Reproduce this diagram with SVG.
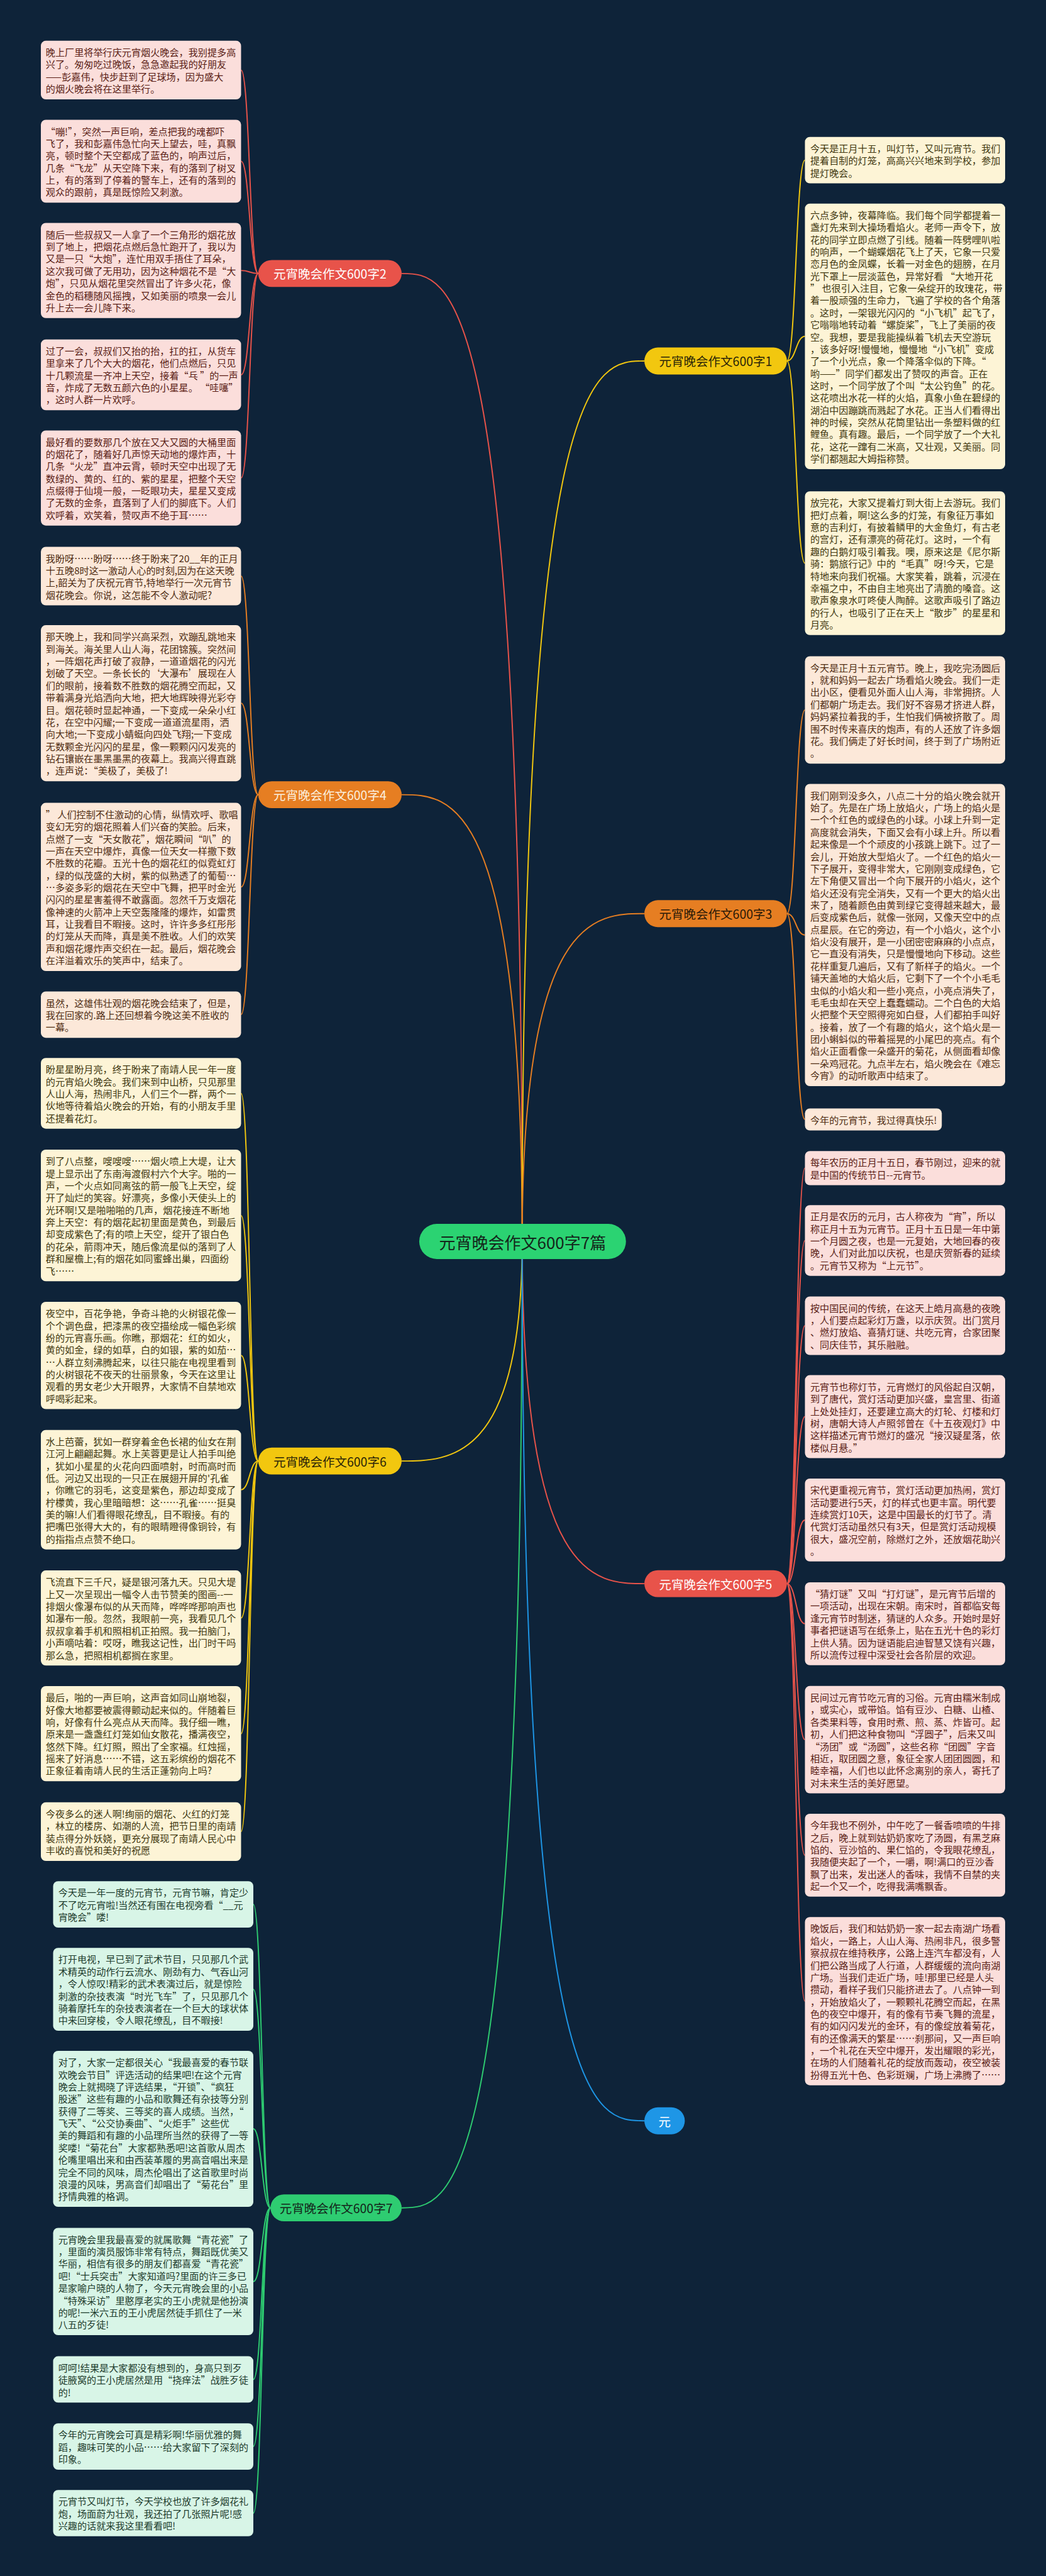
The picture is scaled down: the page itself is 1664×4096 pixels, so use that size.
<svg xmlns="http://www.w3.org/2000/svg" width="1664" height="4096" viewBox="0 0 1664 4096">
<style>
.t{font-family:"Noto Sans CJK SC","Noto Sans CJK JP",sans-serif;font-size:23.3px}
.tp{fill:#5a1d15}.to{fill:#4f2c12}.ty{fill:#40370f}.tg{fill:#1d3b2c}
.bp{fill:#fbdedb}.bo{fill:#fce8d9}.by{fill:#fdf4d6}.bg{fill:#d8f5e7}
.lbl{font-family:"Noto Sans CJK SC","Noto Sans CJK JP",sans-serif;font-size:30px;text-anchor:middle;dominant-baseline:central}
.c{fill:none;stroke-width:3}
.cr{stroke:#e8534a}.co{stroke:#e67e22}.cy{stroke:#f2c70f}.cg{stroke:#2ecc71}.cb{stroke:#1e96e6}
</style>
<rect x="0" y="0" width="1664" height="4096" fill="#0e2339"/>
<g transform="scale(0.65)">
<g id="connectors">
<path class="c cr" d="M1278,3037 C1278,669 1101,669 983,669"/>
<path class="c co" d="M1278,3037 C1278,1944 1101,1944 983,1944"/>
<path class="c cy" d="M1278,3037 C1278,3574 1101,3574 983,3574"/>
<path class="c cg" d="M1278,3037 C1278,5401 1101,5401 983,5401"/>
<path class="c cy" d="M1278,3037 C1278,883 1457,883 1577,883"/>
<path class="c co" d="M1278,3037 C1278,2235 1457,2235 1577,2235"/>
<path class="c cr" d="M1278,3037 C1278,3874 1457,3874 1577,3874"/>
<path class="c cb" d="M1278,3037 C1278,5188 1457,5188 1577,5188"/>
<path class="c cr" d="M632,669 C611,669 611,171.4 590,171.4"/>
<path class="c cr" d="M632,669 C611,669 611,394.4 590,394.4"/>
<path class="c cr" d="M632,669 C611,669 611,661.7 590,661.7"/>
<path class="c cr" d="M632,669 C611,669 611,916.9 590,916.9"/>
<path class="c cr" d="M632,669 C611,669 611,1169.3 590,1169.3"/>
<path class="c co" d="M632,1944 C611,1944 611,1409.1 590,1409.1"/>
<path class="c co" d="M632,1944 C611,1944 611,1720.2 590,1720.2"/>
<path class="c co" d="M632,1944 C611,1944 611,2169.7 590,2169.7"/>
<path class="c co" d="M632,1944 C611,1944 611,2482 590,2482"/>
<path class="c cy" d="M632,3574 C611,3574 611,2674.5 590,2674.5"/>
<path class="c cy" d="M632,3574 C611,3574 611,2973.4 590,2973.4"/>
<path class="c cy" d="M632,3574 C611,3574 611,3315.8 590,3315.8"/>
<path class="c cy" d="M632,3574 C611,3574 611,3644.1 590,3644.1"/>
<path class="c cy" d="M632,3574 C611,3574 611,3958 590,3958"/>
<path class="c cy" d="M632,3574 C611,3574 611,4241 590,4241"/>
<path class="c cy" d="M632,3574 C611,3574 611,4480.6 590,4480.6"/>
<path class="c cg" d="M662,5401 C641,5401 641,4658.7 620,4658.7"/>
<path class="c cg" d="M662,5401 C641,5401 641,4866.4 620,4866.4"/>
<path class="c cg" d="M662,5401 C641,5401 641,5207.8 620,5207.8"/>
<path class="c cg" d="M662,5401 C641,5401 641,5581.2 620,5581.2"/>
<path class="c cg" d="M662,5401 C641,5401 641,5820.7 620,5820.7"/>
<path class="c cg" d="M662,5401 C641,5401 641,5984.7 620,5984.7"/>
<path class="c cg" d="M662,5401 C641,5401 641,6147.7 620,6147.7"/>
<path class="c cy" d="M1926,883 C1948,883 1948,391.7 1970,391.7"/>
<path class="c cy" d="M1926,883 C1948,883 1948,822.8 1970,822.8"/>
<path class="c cy" d="M1926,883 C1948,883 1948,1377.7 1970,1377.7"/>
<path class="c co" d="M1926,2235 C1948,2235 1948,1736.7 1970,1736.7"/>
<path class="c co" d="M1926,2235 C1948,2235 1948,2287.3 1970,2287.3"/>
<path class="c co" d="M1926,2235 C1948,2235 1948,2738.5 1970,2738.5"/>
<path class="c cr" d="M1926,3874 C1948,3874 1948,2857.4 1970,2857.4"/>
<path class="c cr" d="M1926,3874 C1948,3874 1948,3034.5 1970,3034.5"/>
<path class="c cr" d="M1926,3874 C1948,3874 1948,3243 1970,3243"/>
<path class="c cr" d="M1926,3874 C1948,3874 1948,3465.4 1970,3465.4"/>
<path class="c cr" d="M1926,3874 C1948,3874 1948,3718.4 1970,3718.4"/>
<path class="c cr" d="M1926,3874 C1948,3874 1948,3972 1970,3972"/>
<path class="c cr" d="M1926,3874 C1948,3874 1948,4255.6 1970,4255.6"/>
<path class="c cr" d="M1926,3874 C1948,3874 1948,4538.4 1970,4538.4"/>
<path class="c cr" d="M1926,3874 C1948,3874 1948,4895.3 1970,4895.3"/>
</g>

<g id="root"><rect x="1026" y="2994" width="506" height="86" rx="43" fill="#2bd372"/><text x="1279" y="3037" class="lbl" style="font-size:40px" fill="#14261b">元宵晚会作文600字7篇</text></g>
<g id="b2"><rect x="632" y="636" width="351" height="66" rx="33" fill="#e8534a"/><text x="807.5" y="669" class="lbl" fill="#ffffff">元宵晚会作文600字2</text></g>
<g id="b4"><rect x="632" y="1911" width="351" height="66" rx="33" fill="#e67e22"/><text x="807.5" y="1944" class="lbl" fill="#fbeedd">元宵晚会作文600字4</text></g>
<g id="b6"><rect x="632" y="3541" width="351" height="66" rx="33" fill="#f2c70f"/><text x="807.5" y="3574" class="lbl" fill="#2b2508">元宵晚会作文600字6</text></g>
<g id="b7"><rect x="662" y="5368" width="321" height="66" rx="33" fill="#2ecc71"/><text x="822.5" y="5401" class="lbl" fill="#14261b">元宵晚会作文600字7</text></g>
<g id="b1"><rect x="1577" y="850" width="349" height="66" rx="33" fill="#f2c70f"/><text x="1751.5" y="883" class="lbl" fill="#2b2508">元宵晚会作文600字1</text></g>
<g id="b3"><rect x="1577" y="2202" width="349" height="66" rx="33" fill="#e67e22"/><text x="1751.5" y="2235" class="lbl" fill="#2b1a08">元宵晚会作文600字3</text></g>
<g id="b5"><rect x="1577" y="3841" width="349" height="66" rx="33" fill="#e8534a"/><text x="1751.5" y="3874" class="lbl" fill="#ffffff">元宵晚会作文600字5</text></g>
<g id="b8"><rect x="1577" y="5155" width="99" height="66" rx="33" fill="#1e96e6"/><text x="1626.5" y="5188" class="lbl" fill="#ffffff">元</text></g>

<g id="l1"><rect class="bp" x="100" y="99.8" width="490" height="143.2" rx="12"/><text class="t tp" x="112" y="137"><tspan x="112">晚上厂里将举行庆元宵烟火晚会，我别提多高</tspan><tspan x="112" dy="29.8">兴了。匆匆吃过晚饭，急急邀起我的好朋友</tspan><tspan x="112" dy="29.8">——彭嘉伟，快步赶到了足球场，因为盛大</tspan><tspan x="112" dy="29.8">的烟火晚会将在这里举行。</tspan></text></g>
<g id="l2"><rect class="bp" x="100" y="293" width="490" height="202.8" rx="12"/><text class="t tp" x="112" y="330.2"><tspan x="112">“嘣!”，突然一声巨响，差点把我的魂都吓</tspan><tspan x="112" dy="29.8">飞了，我和彭嘉伟急忙向天上望去，哇，真飘</tspan><tspan x="112" dy="29.8">亮，顿时整个天空都成了蓝色的，响声过后，</tspan><tspan x="112" dy="29.8">几条“飞龙”从天空降下来，有的落到了树叉</tspan><tspan x="112" dy="29.8">上，有的落到了停着的警车上，还有的落到的</tspan><tspan x="112" dy="29.8">观众的跟前，真是既惊险又刺激。</tspan></text></g>
<g id="l3"><rect class="bp" x="100" y="545.4" width="490" height="232.6" rx="12"/><text class="t tp" x="112" y="582.6"><tspan x="112">随后一些叔叔又一人拿了一个三角形的烟花放</tspan><tspan x="112" dy="29.8">到了地上，把烟花点燃后急忙跑开了，我以为</tspan><tspan x="112" dy="29.8">又是一只“大炮”，连忙用双手捂住了耳朵，</tspan><tspan x="112" dy="29.8">这次我可做了无用功，因为这种烟花不是“大</tspan><tspan x="112" dy="29.8">炮”，只见从烟花里突然冒出了许多火花，像</tspan><tspan x="112" dy="29.8">金色的稻穗随风摇拽，又如美丽的喷泉一会儿</tspan><tspan x="112" dy="29.8">升上去一会儿降下来。</tspan></text></g>
<g id="l4"><rect class="bp" x="100" y="830.4" width="490" height="173" rx="12"/><text class="t tp" x="112" y="867.6"><tspan x="112">过了一会，叔叔们又抬的抬，扛的扛，从货车</tspan><tspan x="112" dy="29.8">里拿来了几个大大的烟花，他们点燃后，只见</tspan><tspan x="112" dy="29.8">十几颗流星一齐冲上天空，接着“乓 ”的一声</tspan><tspan x="112" dy="29.8">音，炸成了无数五颜六色的小星星。 “哇噻”</tspan><tspan x="112" dy="29.8">，这时人群一片欢呼。</tspan></text></g>
<g id="l5"><rect class="bp" x="100" y="1053" width="490" height="232.6" rx="12"/><text class="t tp" x="112" y="1090.2"><tspan x="112">最好看的要数那几个放在又大又圆的大桶里面</tspan><tspan x="112" dy="29.8">的烟花了，随着好几声惊天动地的爆炸声，十</tspan><tspan x="112" dy="29.8">几条“火龙”直冲云霄，顿时天空中出现了无</tspan><tspan x="112" dy="29.8">数绿的、黄的、红的、紫的星星，把整个天空</tspan><tspan x="112" dy="29.8">点缀得于仙境一般，一眨眼功夫，星星又变成</tspan><tspan x="112" dy="29.8">了无数的金条，直落到了人们的脚底下。人们</tspan><tspan x="112" dy="29.8">欢呼着，欢笑着，赞叹声不绝于耳……</tspan></text></g>

<g id="l6"><rect class="bo" x="100" y="1337.5" width="490" height="143.2" rx="12"/><text class="t to" x="112" y="1374.7"><tspan x="112">我盼呀……盼呀……终于盼来了20__年的正月</tspan><tspan x="112" dy="29.8">十五晚8时这一激动人心的时刻,因为在这天晚</tspan><tspan x="112" dy="29.8">上,韶关为了庆祝元宵节,特地举行一次元宵节</tspan><tspan x="112" dy="29.8">烟花晚会。你说，这怎能不令人激动呢?</tspan></text></g>
<g id="l7"><rect class="bo" x="100" y="1529.4" width="490" height="381.6" rx="12"/><text class="t to" x="112" y="1566.6"><tspan x="112">那天晚上，我和同学兴高采烈，欢蹦乱跳地来</tspan><tspan x="112" dy="29.8">到海关。海关里人山人海，花团锦簇。突然间</tspan><tspan x="112" dy="29.8">，一阵烟花声打破了寂静，一道道烟花的闪光</tspan><tspan x="112" dy="29.8">划破了天空。一条长长的‘大瀑布’展现在人</tspan><tspan x="112" dy="29.8">们的眼前，接着数不胜数的烟花腾空而起，又</tspan><tspan x="112" dy="29.8">带着满身光焰洒向大地，把大地辉映得光彩夺</tspan><tspan x="112" dy="29.8">目。烟花顿时显起神通，一下变成一朵朵小红</tspan><tspan x="112" dy="29.8">花，在空中闪耀;一下变成一道道流星雨，洒</tspan><tspan x="112" dy="29.8">向大地;一下变成小蜻蜓向四处飞翔;一下变成</tspan><tspan x="112" dy="29.8">无数颗金光闪闪的星星，像一颗颗闪闪发亮的</tspan><tspan x="112" dy="29.8">钻石镶嵌在墨黑墨黑的夜幕上。我高兴得直跳</tspan><tspan x="112" dy="29.8">，连声说：“美极了，美极了!</tspan></text></g>
<g id="l8"><rect class="bo" x="100" y="1964" width="490" height="411.4" rx="12"/><text class="t to" x="112" y="2001.2"><tspan x="112">” 人们控制不住激动的心情，纵情欢呼、歌唱</tspan><tspan x="112" dy="29.8">变幻无穷的烟花照着人们兴奋的笑脸。后来，</tspan><tspan x="112" dy="29.8">点燃了一支“天女散花”，烟花瞬间“叭”的</tspan><tspan x="112" dy="29.8">一声在天空中爆炸，真像一位天女一样撒下数</tspan><tspan x="112" dy="29.8">不胜数的花瓣。五光十色的烟花红的似霓虹灯</tspan><tspan x="112" dy="29.8">，绿的似茂盛的大树，紫的似熟透了的葡萄…</tspan><tspan x="112" dy="29.8">…多姿多彩的烟花在天空中飞舞，把平时金光</tspan><tspan x="112" dy="29.8">闪闪的星星害羞得不敢露面。忽然千万支烟花</tspan><tspan x="112" dy="29.8">像神速的火箭冲上天空轰隆隆的爆炸，如雷贯</tspan><tspan x="112" dy="29.8">耳，让我看目不暇接。这时，许许多多红彤彤</tspan><tspan x="112" dy="29.8">的灯笼从天而降，真是美不胜收。人们的欢笑</tspan><tspan x="112" dy="29.8">声和烟花爆炸声交织在一起。最后，烟花晚会</tspan><tspan x="112" dy="29.8">在洋溢着欢乐的笑声中，结束了。</tspan></text></g>
<g id="l9"><rect class="bo" x="100" y="2425.3" width="490" height="113.4" rx="12"/><text class="t to" x="112" y="2462.5"><tspan x="112">虽然，这雄伟壮观的烟花晚会结束了，但是，</tspan><tspan x="112" dy="29.8">我在回家的.路上还回想着今晚这美不胜收的</tspan><tspan x="112" dy="29.8">一幕。</tspan></text></g>

<g id="l10"><rect class="by" x="100" y="2588" width="490" height="173" rx="12"/><text class="t ty" x="112" y="2625.2"><tspan x="112">盼星星盼月亮，终于盼来了南靖人民一年一度</tspan><tspan x="112" dy="29.8">的元宵焰火晚会。我们来到中山桥，只见那里</tspan><tspan x="112" dy="29.8">人山人海，热闹非凡，人们三个一群，两个一</tspan><tspan x="112" dy="29.8">伙地等待着焰火晚会的开始，有的小朋友手里</tspan><tspan x="112" dy="29.8">还提着花灯。</tspan></text></g>
<g id="l11"><rect class="by" x="100" y="2812.4" width="490" height="322" rx="12"/><text class="t ty" x="112" y="2849.6"><tspan x="112">到了八点整，嗖嗖嗖……烟火喷上大堤，让大</tspan><tspan x="112" dy="29.8">堤上显示出了东南海渡假村六个大字。啪的一</tspan><tspan x="112" dy="29.8">声，一个火点如同离弦的箭一般飞上天空，绽</tspan><tspan x="112" dy="29.8">开了灿烂的笑容。好漂亮，多像小天使头上的</tspan><tspan x="112" dy="29.8">光环啊!又是啪啪啪的几声，烟花接连不断地</tspan><tspan x="112" dy="29.8">奔上天空：有的烟花起初里面是黄色，到最后</tspan><tspan x="112" dy="29.8">却变成紫色了;有的喷上天空，绽开了银白色</tspan><tspan x="112" dy="29.8">的花朵，箭雨冲天，随后像流星似的落到了人</tspan><tspan x="112" dy="29.8">群和屋檐上;有的烟花如同蜜蜂出巢，四面纷</tspan><tspan x="112" dy="29.8">飞……</tspan></text></g>
<g id="l12"><rect class="by" x="100" y="3184.6" width="490" height="262.4" rx="12"/><text class="t ty" x="112" y="3221.8"><tspan x="112">夜空中，百花争艳，争奇斗艳的火树银花像一</tspan><tspan x="112" dy="29.8">个个调色盘，把漆黑的夜空描绘成一幅色彩缤</tspan><tspan x="112" dy="29.8">纷的元宵喜乐画。你瞧，那烟花：红的如火，</tspan><tspan x="112" dy="29.8">黄的如金，绿的如草，白的如银，紫的如茄…</tspan><tspan x="112" dy="29.8">…人群立刻沸腾起来，以往只能在电视里看到</tspan><tspan x="112" dy="29.8">的火树银花不夜天的壮丽景象，今天在这里让</tspan><tspan x="112" dy="29.8">观看的男女老少大开眼界，大家情不自禁地欢</tspan><tspan x="112" dy="29.8">呼喝彩起来。</tspan></text></g>
<g id="l13"><rect class="by" x="100" y="3498" width="490" height="292.2" rx="12"/><text class="t ty" x="112" y="3535.2"><tspan x="112">水上芭蕾，犹如一群穿着金色长裙的仙女在荆</tspan><tspan x="112" dy="29.8">江河上翩翩起舞。水上芙蓉更是让人拍手叫绝</tspan><tspan x="112" dy="29.8">，犹如小星星的火花向四面喷射，时而高时而</tspan><tspan x="112" dy="29.8">低。河边又出现的一只正在展翅开屏的'孔雀</tspan><tspan x="112" dy="29.8">，你瞧它的羽毛，这变是紫色，那边却变成了</tspan><tspan x="112" dy="29.8">柠檬黄，我心里暗暗想：这……孔雀……挺臭</tspan><tspan x="112" dy="29.8">美的嘛!人们看得眼花缭乱，目不暇接。有的</tspan><tspan x="112" dy="29.8">把嘴巴张得大大的，有的眼睛瞪得像铜铃，有</tspan><tspan x="112" dy="29.8">的指指点点赞不绝口。</tspan></text></g>
<g id="l14"><rect class="by" x="100" y="3841.7" width="490" height="232.6" rx="12"/><text class="t ty" x="112" y="3878.9"><tspan x="112">飞流直下三千尺，疑是银河落九天。只见大堤</tspan><tspan x="112" dy="29.8">上又一次呈现出一幅令人击节赞美的图画--一</tspan><tspan x="112" dy="29.8">排烟火像瀑布似的从天而降，哗哗哗那响声也</tspan><tspan x="112" dy="29.8">如瀑布一般。忽然，我眼前一亮，我看见几个</tspan><tspan x="112" dy="29.8">叔叔拿着手机和照相机正拍照。我一拍脑门，</tspan><tspan x="112" dy="29.8">小声嘀咕着：哎呀，瞧我这记性，出门时干吗</tspan><tspan x="112" dy="29.8">那么急，把照相机都搁在家里。</tspan></text></g>
<g id="l15"><rect class="by" x="100" y="4124.7" width="490" height="232.6" rx="12"/><text class="t ty" x="112" y="4161.9"><tspan x="112">最后，啪的一声巨响，这声音如同山崩地裂，</tspan><tspan x="112" dy="29.8">好像大地都要被震得颤动起来似的。伴随着巨</tspan><tspan x="112" dy="29.8">响，好像有什么亮点从天而降。我仔细一瞧，</tspan><tspan x="112" dy="29.8">原来是一盏盏红灯笼如仙女散花，播满夜空，</tspan><tspan x="112" dy="29.8">悠然下降。红灯照，照出了全家福。红烛摇，</tspan><tspan x="112" dy="29.8">摇来了好消息……不错，这五彩缤纷的烟花不</tspan><tspan x="112" dy="29.8">正象征着南靖人民的生活正蓬勃向上吗?</tspan></text></g>
<g id="l16"><rect class="by" x="100" y="4409" width="490" height="143.2" rx="12"/><text class="t ty" x="112" y="4446.2"><tspan x="112">今夜多么的迷人啊!绚丽的烟花、火红的灯笼</tspan><tspan x="112" dy="29.8">，林立的楼房、如潮的人流，把节日里的南靖</tspan><tspan x="112" dy="29.8">装点得分外妖娆，更充分展现了南靖人民心中</tspan><tspan x="112" dy="29.8">丰收的喜悦和美好的祝愿</tspan></text></g>

<g id="g1"><rect class="bg" x="130" y="4602" width="490" height="113.4" rx="12"/><text class="t tg" x="142.5" y="4639.2"><tspan x="142.5">今天是一年一度的元宵节，元宵节嘛，肯定少</tspan><tspan x="142.5" dy="29.8">不了吃元宵啦!当然还有围在电视旁看“__元</tspan><tspan x="142.5" dy="29.8">宵晚会”喽!</tspan></text></g>
<g id="g2"><rect class="bg" x="130" y="4765" width="490" height="202.8" rx="12"/><text class="t tg" x="142.5" y="4802.2"><tspan x="142.5">打开电视，早已到了武术节目，只见那几个武</tspan><tspan x="142.5" dy="29.8">术精英的动作行云流水、刚劲有力、气吞山河</tspan><tspan x="142.5" dy="29.8">，令人惊叹!精彩的武术表演过后，就是惊险</tspan><tspan x="142.5" dy="29.8">刺激的杂技表演“时光飞车”了，只见那几个</tspan><tspan x="142.5" dy="29.8">骑着摩托车的杂技表演者在一个巨大的球状体</tspan><tspan x="142.5" dy="29.8">中来回穿梭，令人眼花缭乱，目不暇接!</tspan></text></g>
<g id="g3"><rect class="bg" x="130" y="5017" width="490" height="381.6" rx="12"/><text class="t tg" x="142.5" y="5054.2"><tspan x="142.5">对了，大家一定都很关心“我最喜爱的春节联</tspan><tspan x="142.5" dy="29.8">欢晚会节目”评选活动的结果吧!在这个元宵</tspan><tspan x="142.5" dy="29.8">晚会上就揭晓了评选结果，“开锁”、“疯狂</tspan><tspan x="142.5" dy="29.8">股迷”这些有趣的小品和歌舞还有杂技等分别</tspan><tspan x="142.5" dy="29.8">获得了二等奖、三等奖的喜人成绩。当然，“</tspan><tspan x="142.5" dy="29.8">飞天”、“公交协奏曲”、“火炬手”这些优</tspan><tspan x="142.5" dy="29.8">美的舞蹈和有趣的小品理所当然的获得了一等</tspan><tspan x="142.5" dy="29.8">奖喽!“菊花台”大家都熟悉吧!这首歌从周杰</tspan><tspan x="142.5" dy="29.8">伦嘴里唱出来和由西装革履的男高音唱出来是</tspan><tspan x="142.5" dy="29.8">完全不同的风味，周杰伦唱出了这首歌里时尚</tspan><tspan x="142.5" dy="29.8">浪漫的风味，男高音们却唱出了“菊花台”里</tspan><tspan x="142.5" dy="29.8">抒情典雅的格调。</tspan></text></g>
<g id="g4"><rect class="bg" x="130" y="5450" width="490" height="262.4" rx="12"/><text class="t tg" x="142.5" y="5487.2"><tspan x="142.5">元宵晚会里我最喜爱的就属歌舞“青花瓷”了</tspan><tspan x="142.5" dy="29.8">，里面的演员服饰非常有特点，舞蹈既优美又</tspan><tspan x="142.5" dy="29.8">华丽，相信有很多的朋友们都喜爱“青花瓷”</tspan><tspan x="142.5" dy="29.8">吧!“士兵突击”大家知道吗?里面的许三多已</tspan><tspan x="142.5" dy="29.8">是家喻户晓的人物了，今天元宵晚会里的小品</tspan><tspan x="142.5" dy="29.8">“特殊采访”里憨厚老实的王小虎就是他扮演</tspan><tspan x="142.5" dy="29.8">的呢!一米六五的王小虎居然徒手抓住了一米</tspan><tspan x="142.5" dy="29.8">八五的歹徒!</tspan></text></g>
<g id="g5"><rect class="bg" x="130" y="5764" width="490" height="113.4" rx="12"/><text class="t tg" x="142.5" y="5801.2"><tspan x="142.5">呵呵!结果是大家都没有想到的，身高只到歹</tspan><tspan x="142.5" dy="29.8">徒腋窝的王小虎居然是用“挠痒法”战胜歹徒</tspan><tspan x="142.5" dy="29.8">的!</tspan></text></g>
<g id="g6"><rect class="bg" x="130" y="5928" width="490" height="113.4" rx="12"/><text class="t tg" x="142.5" y="5965.2"><tspan x="142.5">今年的元宵晚会可真是精彩啊!华丽优雅的舞</tspan><tspan x="142.5" dy="29.8">蹈，趣味可笑的小品……给大家留下了深刻的</tspan><tspan x="142.5" dy="29.8">印象。</tspan></text></g>
<g id="g7"><rect class="bg" x="130" y="6091" width="490" height="113.4" rx="12"/><text class="t tg" x="142.5" y="6128.2"><tspan x="142.5">元宵节又叫灯节，今天学校也放了许多烟花礼</tspan><tspan x="142.5" dy="29.8">炮，场面蔚为壮观，我还拍了几张照片呢!感</tspan><tspan x="142.5" dy="29.8">兴趣的话就来我这里看看吧!</tspan></text></g>

<g id="r1"><rect class="by" x="1970" y="335" width="490" height="113.4" rx="12"/><text class="t ty" x="1983" y="372.2"><tspan x="1983">今天是正月十五，叫灯节，又叫元宵节。我们</tspan><tspan x="1983" dy="29.8">提着自制的灯笼，高高兴兴地来到学校，参加</tspan><tspan x="1983" dy="29.8">提灯晚会。</tspan></text></g>
<g id="r2"><rect class="by" x="1970" y="497.9" width="490" height="649.8" rx="12"/><text class="t ty" x="1983" y="535.1"><tspan x="1983">六点多钟，夜幕降临。我们每个同学都提着一</tspan><tspan x="1983" dy="29.8">盏灯先来到大操场看焰火。老师一声令下，放</tspan><tspan x="1983" dy="29.8">花的同学立即点燃了引线。随着一阵劈哩叭啦</tspan><tspan x="1983" dy="29.8">的响声，一个蝴蝶烟花飞上了天，它象一只爱</tspan><tspan x="1983" dy="29.8">恋月色的金凤蝶，长着一对金色的翅膀，在月</tspan><tspan x="1983" dy="29.8">光下罩上一层淡蓝色，异常好看 “大地开花</tspan><tspan x="1983" dy="29.8">” 也很引入注目，它象一朵绽开的玫瑰花，带</tspan><tspan x="1983" dy="29.8">着一股顽强的生命力，飞遍了学校的各个角落</tspan><tspan x="1983" dy="29.8">。这时，一架银光闪闪的“小飞机”起飞了，</tspan><tspan x="1983" dy="29.8">它嗡嗡地转动着“螺旋桨”，飞上了美丽的夜</tspan><tspan x="1983" dy="29.8">空。我想，要是我能操纵着飞机去天空游玩</tspan><tspan x="1983" dy="29.8">，该多好呀!慢慢地，慢慢地“小飞机”变成</tspan><tspan x="1983" dy="29.8">了一个小光点，象一个降落伞似的下降。“</tspan><tspan x="1983" dy="29.8">哟——”同学们都发出了赞叹的声音。正在</tspan><tspan x="1983" dy="29.8">这时，一个同学放了个叫“太公钓鱼”的花。</tspan><tspan x="1983" dy="29.8">这花喷出水花一样的火焰，真象小鱼在碧绿的</tspan><tspan x="1983" dy="29.8">湖泊中因蹦跳而溅起了水花。正当人们看得出</tspan><tspan x="1983" dy="29.8">神的时候，突然从花筒里钻出一条塑料做的红</tspan><tspan x="1983" dy="29.8">鲤鱼。真有趣。最后，一个同学放了一个大礼</tspan><tspan x="1983" dy="29.8">花，这花一蹿有二米高，又壮观，又美丽。同</tspan><tspan x="1983" dy="29.8">学们都翘起大姆指称赞。</tspan></text></g>
<g id="r3"><rect class="by" x="1970" y="1201.8" width="490" height="351.8" rx="12"/><text class="t ty" x="1983" y="1239"><tspan x="1983">放完花，大家又提着灯到大街上去游玩。我们</tspan><tspan x="1983" dy="29.8">把灯点着，啊!这么多的灯笼，有象征万事如</tspan><tspan x="1983" dy="29.8">意的吉利灯，有披着鳞甲的大金鱼灯，有古老</tspan><tspan x="1983" dy="29.8">的宫灯，还有漂亮的荷花灯。这时，一个有</tspan><tspan x="1983" dy="29.8">趣的白鹅灯吸引着我。噢，原来这是《尼尔斯</tspan><tspan x="1983" dy="29.8">骑：鹅旅行记》中的“毛真”呀!今天，它是</tspan><tspan x="1983" dy="29.8">特地来向我们祝福。大家笑着，跳着，沉浸在</tspan><tspan x="1983" dy="29.8">幸福之中，不由自主地亮出了清脆的嗓音。这</tspan><tspan x="1983" dy="29.8">歌声象泉水叮咚使人陶醉。这歌声吸引了路边</tspan><tspan x="1983" dy="29.8">的行人，也吸引了正在天上“散步”的星星和</tspan><tspan x="1983" dy="29.8">月亮。</tspan></text></g>

<g id="r4"><rect class="bo" x="1970" y="1605.5" width="490" height="262.4" rx="12"/><text class="t to" x="1983" y="1642.7"><tspan x="1983">今天是正月十五元宵节。晚上，我吃完汤圆后</tspan><tspan x="1983" dy="29.8">，就和妈妈一起去广场看焰火晚会。我们一走</tspan><tspan x="1983" dy="29.8">出小区，便看见外面人山人海，非常拥挤。人</tspan><tspan x="1983" dy="29.8">们都朝广场走去。我们好不容易才挤进人群，</tspan><tspan x="1983" dy="29.8">妈妈紧拉着我的手，生怕我们俩被挤散了。周</tspan><tspan x="1983" dy="29.8">围不时传来喜庆的炮声，有的人还放了许多烟</tspan><tspan x="1983" dy="29.8">花。我们俩走了好长时间，终于到了广场附近</tspan><tspan x="1983" dy="29.8">。</tspan></text></g>
<g id="r5"><rect class="bo" x="1970" y="1917.7" width="490" height="739.2" rx="12"/><text class="t to" x="1983" y="1954.9"><tspan x="1983">我们刚到没多久，八点二十分的焰火晚会就开</tspan><tspan x="1983" dy="29.8">始了。先是在广场上放焰火，广场上的焰火是</tspan><tspan x="1983" dy="29.8">一个个红色的或绿色的小球。小球上升到一定</tspan><tspan x="1983" dy="29.8">高度就会消失，下面又会有小球上升。所以看</tspan><tspan x="1983" dy="29.8">起来像是一个个顽皮的小孩跳上跳下。过了一</tspan><tspan x="1983" dy="29.8">会儿，开始放大型焰火了。一个红色的焰火一</tspan><tspan x="1983" dy="29.8">下子展开，变得非常大，它刚刚变成绿色，它</tspan><tspan x="1983" dy="29.8">左下角便又冒出一个向下展开的小焰火，这个</tspan><tspan x="1983" dy="29.8">焰火还没有完全消失，又有一个更大的焰火出</tspan><tspan x="1983" dy="29.8">来了，随着颜色由黄到绿它变得越来越大，最</tspan><tspan x="1983" dy="29.8">后变成紫色后，就像一张网，又像天空中的点</tspan><tspan x="1983" dy="29.8">点星辰。在它的旁边，有一个小焰火，这个小</tspan><tspan x="1983" dy="29.8">焰火没有展开，是一小团密密麻麻的小点点，</tspan><tspan x="1983" dy="29.8">它一直没有消失，只是慢慢地向下移动。这些</tspan><tspan x="1983" dy="29.8">花样重复几遍后，又有了新样子的焰火。一个</tspan><tspan x="1983" dy="29.8">铺天盖地的大焰火后，它剩下了一个个小毛毛</tspan><tspan x="1983" dy="29.8">虫似的小焰火和一些小亮点，小亮点消失了，</tspan><tspan x="1983" dy="29.8">毛毛虫却在天空上蠢蠢蠕动。二个白色的大焰</tspan><tspan x="1983" dy="29.8">火把整个天空照得宛如白昼，人们都拍手叫好</tspan><tspan x="1983" dy="29.8">。接着，放了一个有趣的焰火，这个焰火是一</tspan><tspan x="1983" dy="29.8">团小蝌蚪似的带着摇晃的小尾巴的亮点。有个</tspan><tspan x="1983" dy="29.8">焰火正面看像一朵盛开的菊花，从侧面看却像</tspan><tspan x="1983" dy="29.8">一朵鸡冠花。九点半左右，焰火晚会在《难忘</tspan><tspan x="1983" dy="29.8">今宵》的动听歌声中结束了。</tspan></text></g>
<g id="r6"><rect class="bo" x="1970" y="2711.6" width="335" height="53.8" rx="12"/><text class="t to" x="1983" y="2748.8">今年的元宵节，我过得真快乐!</text></g>

<g id="r7"><rect class="bp" x="1970" y="2815.6" width="490" height="83.6" rx="12"/><text class="t tp" x="1983" y="2852.8"><tspan x="1983">每年农历的正月十五日，春节刚过，迎来的就</tspan><tspan x="1983" dy="29.8">是中国的传统节日--元宵节。</tspan></text></g>
<g id="r8"><rect class="bp" x="1970" y="2948" width="490" height="173" rx="12"/><text class="t tp" x="1983" y="2985.2"><tspan x="1983">正月是农历的元月，古人称夜为“宵”，所以</tspan><tspan x="1983" dy="29.8">称正月十五为元宵节。正月十五日是一年中第</tspan><tspan x="1983" dy="29.8">一个月圆之夜，也是一元复始，大地回春的夜</tspan><tspan x="1983" dy="29.8">晚，人们对此加以庆祝，也是庆贺新春的延续</tspan><tspan x="1983" dy="29.8">。元宵节又称为“上元节”。</tspan></text></g>
<g id="r9"><rect class="bp" x="1970" y="3171.4" width="490" height="143.2" rx="12"/><text class="t tp" x="1983" y="3208.6"><tspan x="1983">按中国民间的传统，在这天上皓月高悬的夜晚</tspan><tspan x="1983" dy="29.8">，人们要点起彩灯万盏，以示庆贺。出门赏月</tspan><tspan x="1983" dy="29.8">、燃灯放焰、喜猜灯谜、共吃元宵，合家团聚</tspan><tspan x="1983" dy="29.8">、同庆佳节，其乐融融。</tspan></text></g>
<g id="r10"><rect class="bp" x="1970" y="3364" width="490" height="202.8" rx="12"/><text class="t tp" x="1983" y="3401.2"><tspan x="1983">元宵节也称灯节，元宵燃灯的风俗起自汉朝，</tspan><tspan x="1983" dy="29.8">到了唐代，赏灯活动更加兴盛，皇宫里、街道</tspan><tspan x="1983" dy="29.8">上处处挂灯，还要建立高大的灯轮、灯楼和灯</tspan><tspan x="1983" dy="29.8">树，唐朝大诗人卢照邻曾在《十五夜观灯》中</tspan><tspan x="1983" dy="29.8">这样描述元宵节燃灯的盛况“接汉疑星落，依</tspan><tspan x="1983" dy="29.8">楼似月悬。”</tspan></text></g>
<g id="r11"><rect class="bp" x="1970" y="3617" width="490" height="202.8" rx="12"/><text class="t tp" x="1983" y="3654.2"><tspan x="1983">宋代更重视元宵节，赏灯活动更加热闹，赏灯</tspan><tspan x="1983" dy="29.8">活动要进行5天，灯的样式也更丰富。明代要</tspan><tspan x="1983" dy="29.8">连续赏灯10天，这是中国最长的灯节了。清</tspan><tspan x="1983" dy="29.8">代赏灯活动虽然只有3天，但是赏灯活动规模</tspan><tspan x="1983" dy="29.8">很大，盛况空前，除燃灯之外，还放烟花助兴</tspan><tspan x="1983" dy="29.8">。</tspan></text></g>
<g id="r12"><rect class="bp" x="1970" y="3870.6" width="490" height="202.8" rx="12"/><text class="t tp" x="1983" y="3907.8"><tspan x="1983">“猜灯谜”又叫“打灯谜”，是元宵节后增的</tspan><tspan x="1983" dy="29.8">一项活动，出现在宋朝。南宋时，首都临安每</tspan><tspan x="1983" dy="29.8">逢元宵节时制迷，猜谜的人众多。开始时是好</tspan><tspan x="1983" dy="29.8">事者把谜语写在纸条上，贴在五光十色的彩灯</tspan><tspan x="1983" dy="29.8">上供人猜。因为谜语能启迪智慧又饶有兴趣，</tspan><tspan x="1983" dy="29.8">所以流传过程中深受社会各阶层的欢迎。</tspan></text></g>
<g id="r13"><rect class="bp" x="1970" y="4124.4" width="490" height="262.4" rx="12"/><text class="t tp" x="1983" y="4161.6"><tspan x="1983">民间过元宵节吃元宵的习俗。元宵由糯米制成</tspan><tspan x="1983" dy="29.8">，或实心，或带馅。馅有豆沙、白糖、山楂、</tspan><tspan x="1983" dy="29.8">各类果料等，食用时煮、煎、蒸、炸皆可。起</tspan><tspan x="1983" dy="29.8">初，人们把这种食物叫“浮圆子”，后来又叫</tspan><tspan x="1983" dy="29.8">“汤团”或“汤圆”，这些名称“团圆”字音</tspan><tspan x="1983" dy="29.8">相近，取团圆之意，象征全家人团团圆圆，和</tspan><tspan x="1983" dy="29.8">睦幸福，人们也以此怀念离别的亲人，寄托了</tspan><tspan x="1983" dy="29.8">对未来生活的美好愿望。</tspan></text></g>
<g id="r14"><rect class="bp" x="1970" y="4437" width="490" height="202.8" rx="12"/><text class="t tp" x="1983" y="4474.2"><tspan x="1983">今年我也不例外，中午吃了一餐香喷喷的牛排</tspan><tspan x="1983" dy="29.8">之后，晚上就到姑奶奶家吃了汤圆，有黑芝麻</tspan><tspan x="1983" dy="29.8">馅的、豆沙馅的、果仁馅的，令我眼花缭乱，</tspan><tspan x="1983" dy="29.8">我随便夹起了一个，一嚼，啊!满口的豆沙香</tspan><tspan x="1983" dy="29.8">飘了出来，发出迷人的香味，我情不自禁的夹</tspan><tspan x="1983" dy="29.8">起一个又一个，吃得我满嘴飘香。</tspan></text></g>
<g id="r15"><rect class="bp" x="1970" y="4689.6" width="490" height="411.4" rx="12"/><text class="t tp" x="1983" y="4726.8"><tspan x="1983">晚饭后，我们和姑奶奶一家一起去南湖广场看</tspan><tspan x="1983" dy="29.8">焰火，一路上，人山人海、热闹非凡，很多警</tspan><tspan x="1983" dy="29.8">察叔叔在维持秩序，公路上连汽车都没有，人</tspan><tspan x="1983" dy="29.8">们把公路当成了人行道，人群缓缓的流向南湖</tspan><tspan x="1983" dy="29.8">广场。当我们走近广场，哇!那里已经是人头</tspan><tspan x="1983" dy="29.8">攒动，看样子我们只能挤进去了。八点钟一到</tspan><tspan x="1983" dy="29.8">，开始放焰火了，一颗颗礼花腾空而起，在黑</tspan><tspan x="1983" dy="29.8">色的夜空中爆开，有的像有节奏飞舞的流星，</tspan><tspan x="1983" dy="29.8">有的如闪闪发光的金环，有的像绽放着菊花，</tspan><tspan x="1983" dy="29.8">有的还像满天的繁星……刹那间，又一声巨响</tspan><tspan x="1983" dy="29.8">，一个礼花在天空中爆开，发出耀眼的彩光，</tspan><tspan x="1983" dy="29.8">在场的人们随着礼花的绽放而轰动，夜空被装</tspan><tspan x="1983" dy="29.8">扮得五光十色、色彩斑斓，广场上沸腾了……</tspan></text></g>
</g>
</svg>
